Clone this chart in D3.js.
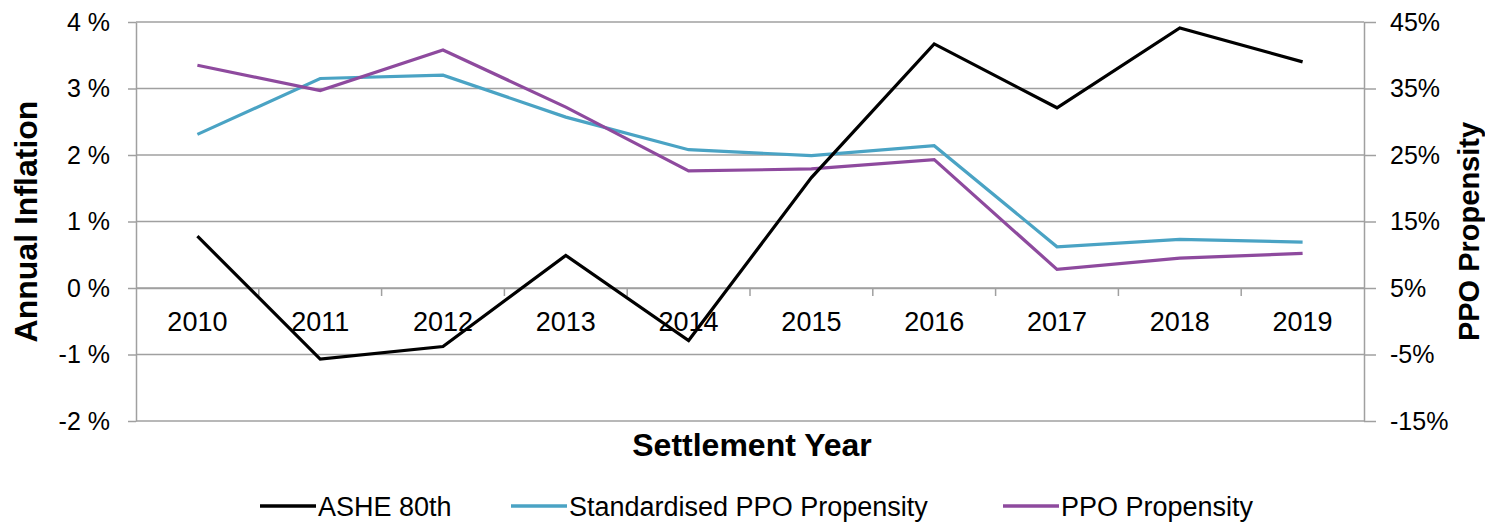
<!DOCTYPE html>
<html>
<head>
<meta charset="utf-8">
<script src="https://cdn.jsdelivr.net/npm/d3@7/dist/d3.min.js"></script>
<style>
  body { margin: 0; background: #fff; }
  svg text { font-family: "Liberation Sans", Arial, sans-serif; fill: #000; }
</style>
</head>
<body>
<svg id="chart" width="1485" height="523"></svg>
<script>
// values
var years = ['2010', '2011', '2012', '2013', '2014', '2015', '2016', '2017', '2018', '2019'];
var ashe80 = [0.78, -1.07, -0.88, 0.49, -0.79, 1.66, 3.67, 2.71, 3.91, 3.40];   // left axis, %
var stdPpo = [28.1, 36.5, 37.0, 30.7, 25.8, 24.9, 26.4, 11.2, 12.3, 11.9];      // right axis, %
var ppo = [38.5, 34.7, 40.8, 32.2, 22.6, 22.9, 24.3, 7.8, 9.5, 10.2];          // right axis, %
var leftTicks = [-2, -1, 0, 1, 2, 3, 4];
var rightTicks = [-15, -5, 5, 15, 25, 35, 45];
var seriesNames = ['ASHE 80th', 'Standardised PPO Propensity', 'PPO Propensity'];
var seriesColors = ['#000000', '#4aa3c4', '#8e4a9e'];

var svg = d3.select('#chart');
// note: "top" clashes with window.top, so plot edges get their own names
var pLeft = 136, pRight = 1364, pTop = 22, pBottom = 421;
var grey = '#a0a0a0';

var x = d3.scaleBand().domain(years).range([pLeft, pRight]).paddingInner(0).paddingOuter(0);
var yL = d3.scaleLinear().domain([-2, 4]).range([pBottom, pTop]);
var yR = d3.scaleLinear().domain([-15, 45]).range([pBottom, pTop]);
var cx = d => x(d) + x.bandwidth() / 2;

// gridlines
svg.append('g')
  .selectAll('line')
  .data(leftTicks)
  .enter()
  .append('line')
    .attr('x1', pLeft)
    .attr('x2', pRight)
    .attr('y1', d => yL(d))
    .attr('y2', d => yL(d))
    .attr('stroke', grey)
    .attr('stroke-width', 1.5)

// left axis
let axL = svg.append('g')
  .attr('transform', `translate(${pLeft}, 0)`)
  .call(d3.axisLeft(yL).tickValues(leftTicks).tickSize(8).tickSizeOuter(0).tickPadding(18)
    .tickFormat(d => d + ' %'))
axL.selectAll('text').attr('font-size', '25px')
axL.selectAll('line, path').attr('stroke', grey).attr('stroke-width', 1.5)

// right axis
let axR = svg.append('g')
  .attr('transform', `translate(${pRight}, 0)`)
  .call(d3.axisRight(yR).tickValues(rightTicks).tickSize(12).tickSizeOuter(0).tickPadding(14)
    .tickFormat(d => d + '%'))
axR.selectAll('text').attr('font-size', '25px')
axR.selectAll('line, path').attr('stroke', grey).attr('stroke-width', 1.5)

// category axis sitting on the 0 % line
let axX = svg.append('g')
  .attr('transform', `translate(0, ${yL(0)})`)
  .call(d3.axisBottom(x).tickSize(0).tickPadding(24))
axX.select('.domain').attr('stroke', grey).attr('stroke-width', 1.5)
axX.selectAll('text').attr('font-size', '27px')
// tick marks on category boundaries
svg.append('g')
  .selectAll('line')
  .data(years.slice(1))
  .enter()
  .append('line')
    .attr('x1', d => x(d))
    .attr('x2', d => x(d))
    .attr('y1', yL(0))
    .attr('y2', yL(0) + 8)
    .attr('stroke', grey)
    .attr('stroke-width', 1.5)

// lines
var lineL = d3.line().x((d, i) => cx(years[i])).y(d => yL(d));
var lineR = d3.line().x((d, i) => cx(years[i])).y(d => yR(d));
var series = [
  { vals: stdPpo, gen: lineR, color: seriesColors[1] },
  { vals: ppo, gen: lineR, color: seriesColors[2] },
  { vals: ashe80, gen: lineL, color: seriesColors[0] },
];
svg.append('g')
  .selectAll('path')
  .data(series)
  .enter()
  .append('path')
    .attr('d', d => d.gen(d.vals))
    .attr('fill', 'none')
    .attr('stroke', d => d.color)
    .attr('stroke-width', 3.2)
    .attr('stroke-linejoin', 'miter')

// axis titles
svg.append('text')
  .attr('transform', `translate(37, ${(pTop + pBottom) / 2}) rotate(-90)`)
  .attr('text-anchor', 'middle')
  .attr('font-size', '32px')
  .attr('font-weight', 'bold')
  .text('Annual Inflation')
svg.append('text')
  .attr('transform', `translate(1479, ${(pTop + pBottom) / 2 + 10}) rotate(-90)`)
  .attr('text-anchor', 'middle')
  .attr('font-size', '29px')
  .attr('font-weight', 'bold')
  .text('PPO Propensity')
svg.append('text')
  .attr('x', 752)
  .attr('y', 456)
  .attr('text-anchor', 'middle')
  .attr('font-size', '32px')
  .attr('font-weight', 'bold')
  .text('Settlement Year')

// legend
var legX = [260, 511, 1003];
let leg = svg.append('g')
  .selectAll('g')
  .data(seriesNames)
  .enter()
  .append('g')
    .attr('transform', (d, i) => `translate(${legX[i]}, 506)`)
leg.append('line')
  .attr('x1', 0)
  .attr('x2', 56)
  .attr('stroke', (d, i) => seriesColors[i])
  .attr('stroke-width', 3.5)
leg.append('text')
  .attr('x', 58)
  .attr('dy', '0.36em')
  .attr('font-size', '27px')
  .text(d => d)
</script>
</body>
</html>
